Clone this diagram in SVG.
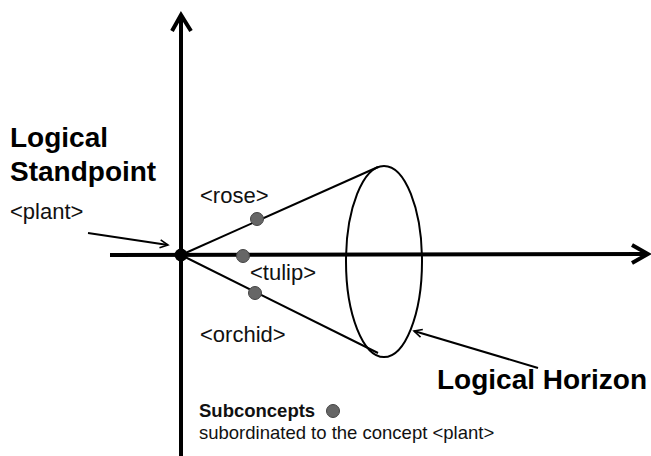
<svg xmlns="http://www.w3.org/2000/svg" width="651" height="456" viewBox="0 0 651 456">
<style>
.title{font-family:"Liberation Sans",Arial,sans-serif;font-weight:bold;font-size:28px;fill:#000}
.lbl{font-family:"Liberation Sans",Arial,sans-serif;font-size:22px;fill:#111}
.small{font-family:"Liberation Sans",Arial,sans-serif;font-size:18.5px;fill:#111}
.axis{stroke:#000;stroke-width:4;fill:none}
.thin{stroke:#000;stroke-width:2;fill:none}
.dot{fill:#666;stroke:#444;stroke-width:1}
</style>
<defs>
<marker id="open" markerWidth="12" markerHeight="12" refX="9" refY="5" orient="auto" markerUnits="userSpaceOnUse">
<path d="M1,1 L9,5 L1,9" fill="none" stroke="#000" stroke-width="1.6"/>
</marker>
</defs>
<rect width="651" height="456" fill="#fff"/>
<g id="axes">
<line class="axis" x1="181" y1="16" x2="181" y2="456"/>
<path class="axis" d="M172,31 L181,15 L191,31"/>
<line class="axis" x1="110" y1="255" x2="647" y2="254"/>
<path class="axis" d="M632,245 L648,254 L632,263"/>
</g>
<g id="cone">
<line class="thin" x1="181" y1="255" x2="378" y2="167"/>
<line class="thin" x1="181" y1="255" x2="378" y2="353"/>
<ellipse class="thin" cx="384" cy="261.5" rx="38" ry="95.5"/>
</g>
<g id="connectors">
<line class="thin" x1="88" y1="233" x2="168" y2="245" marker-end="url(#open)"/>
<line class="thin" x1="538" y1="368" x2="414" y2="331" marker-end="url(#open)"/>
</g>
<g id="standpoint">
<circle cx="181" cy="255" r="6.5" fill="#000"/>
<text class="title" x="10" y="147">Logical</text>
<text class="title" x="10" y="181">Standpoint</text>
<text class="lbl" x="10" y="219">&lt;plant&gt;</text>
</g>
<g id="rose">
<circle class="dot" cx="257" cy="219" r="6.5"/>
<text class="lbl" x="200" y="203">&lt;rose&gt;</text>
</g>
<g id="tulip">
<circle class="dot" cx="243" cy="256" r="6.5"/>
<text class="lbl" x="250" y="280">&lt;tulip&gt;</text>
</g>
<g id="orchid">
<circle class="dot" cx="255" cy="293" r="6.5"/>
<text class="lbl" x="200" y="342">&lt;orchid&gt;</text>
</g>
<g id="horizon">
<text class="title" x="437" y="389">Logical Horizon</text>
</g>
<g id="legend">
<text class="small" x="199" y="417" font-weight="bold">Subconcepts</text>
<circle class="dot" cx="333" cy="411" r="6.5"/>
<text class="small" x="199" y="439">subordinated to the concept &lt;plant&gt;</text>
</g>
</svg>
